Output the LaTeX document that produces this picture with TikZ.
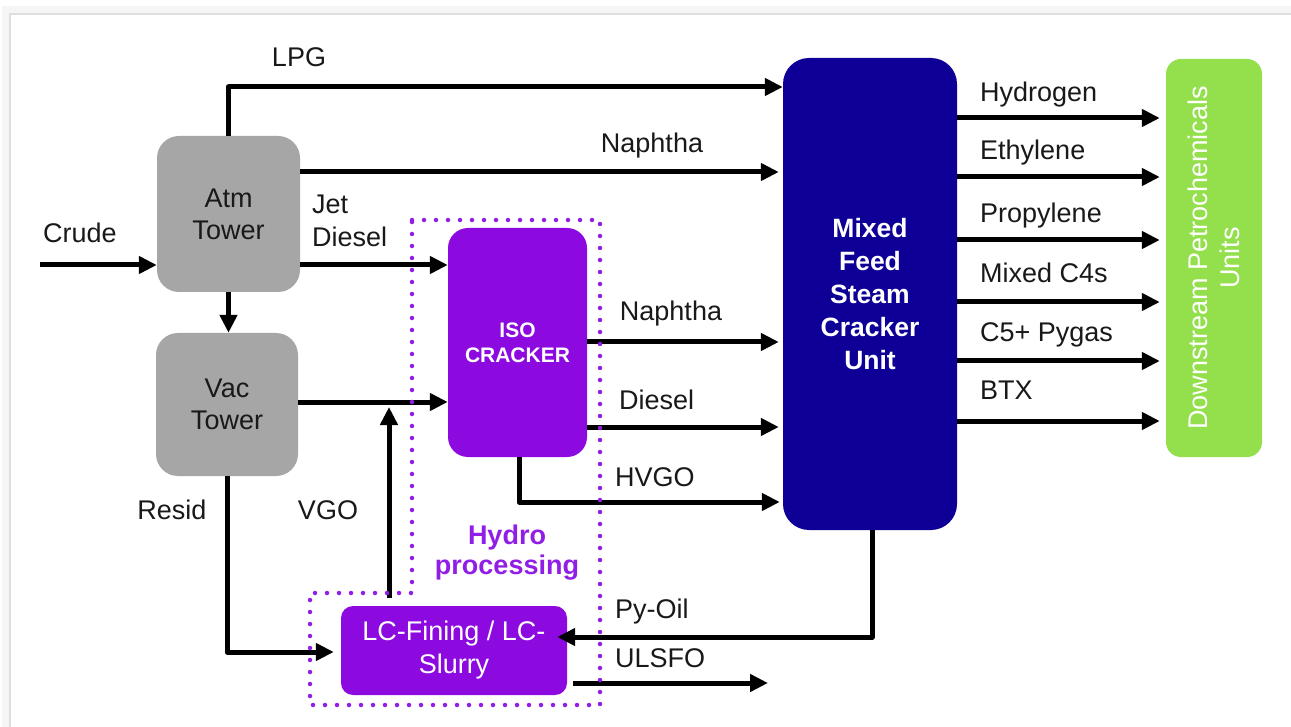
\documentclass[tikz,border=0pt]{standalone}
\usepackage{fontspec}
\setmainfont{Liberation Sans}
\usetikzlibrary{arrows.meta}
\definecolor{boxgray}{RGB}{166,166,166}
\definecolor{isopurple}{RGB}{140,10,224}
\definecolor{mixblue}{RGB}{14,0,150}
\definecolor{dsgreen}{RGB}{148,224,76}
\definecolor{hydropurple}{RGB}{145,30,230}
\definecolor{framegray}{RGB}{222,222,222}
\definecolor{txt}{RGB}{25,25,25}
\begin{document}
\begin{tikzpicture}[x=1pt,y=-1pt,
  box/.style={draw=none, align=center, inner sep=0pt, font=\fontsize{27}{32}\selectfont},
  arr/.style={line width=5pt, line join=round, -{Triangle[length=18pt,width=17pt]}},
  lbl/.style={inner sep=0pt, text=txt, font=\fontsize{27}{33}\selectfont, text height=19.3pt, text depth=0pt},
  hydro/.style={hydropurple, line width=4.5pt, dash pattern=on 0pt off 12pt, line cap=round, line join=round},
]
\useasboundingbox (0,0) rectangle (1291,727);
\fill[white] (0,0) rectangle (1291,727);
% frame with soft shadow
\draw[black!4, line width=8pt] (6,740) -- (6,10) -- (1300,10);
\draw[framegray, line width=2pt] (10,740) -- (10,14) -- (1300,14);

% boxes
\node[box, fill=boxgray, text=txt, rounded corners=22pt, minimum width=143pt, minimum height=156pt] (atm) at (228.5,214) {Atm\\Tower};
\node[box, fill=boxgray, text=txt, rounded corners=22pt, minimum width=142pt, minimum height=143pt] (vac) at (227,404.5) {Vac\\Tower};
\node[box, fill=isopurple, text=white, rounded corners=20pt, minimum width=139pt, minimum height=229pt, font=\bfseries\fontsize{21}{25}\selectfont] (iso) at (517.5,342.5) {ISO\\CRACKER};
\node[box, fill=isopurple, text=white, rounded corners=12pt, minimum width=226pt, minimum height=89pt, font=\fontsize{27}{33}\selectfont] (lc) at (454,650.5) {LC-Fining / LC-\\Slurry};
\node[box, fill=mixblue, text=white, rounded corners=26pt, minimum width=174pt, minimum height=472pt, font=\bfseries\fontsize{26.5}{33}\selectfont] (mix) at (870,294) {Mixed\\Feed\\Steam\\Cracker\\Unit};
\node[box, fill=dsgreen, rounded corners=15pt, minimum width=96pt, minimum height=398pt] (ds) at (1214,258) {};
\node[box, text=white, rotate=90] (dstext) at (ds.center) {Downstream Petrochemicals\\Units};

% coordinates for free ends
\coordinate (crude) at (40,265);
\coordinate (vgotip) at (389,407);
\coordinate (ulsfo) at (768,683);

% connectors
\draw[arr] (crude) -- (crude -| atm.west);
\draw[arr] (atm.north) |- (mix.west |- 0,87);
\draw[arr] (atm.east |- 0,172) -- ([xshift=-4pt]mix.west |- 0,172);
\draw[arr] (atm.east |- 0,265) -- (iso.west |- 0,265);
\draw[arr] (atm.south) -- (atm.south |- vac.north);
\draw[arr] (vac.east |- 0,402) -- (iso.west |- 0,402);
\draw[arr, shorten <=8pt] (lc.north -| vgotip) -- (vgotip);
\draw[arr, shorten >=7pt] (vac.south) |- (lc.west |- 0,652);
\draw[arr] (iso.east |- 0,342) -- ([xshift=-4pt]mix.west |- 0,342);
\draw[arr] (iso.east |- 0,427) -- ([xshift=-4pt]mix.west |- 0,427);
\draw[arr] (iso.south -| 519,0) |- ([xshift=-3pt]mix.west |- 0,502);
\draw[arr, shorten >=-10pt] (mix.south -| 872,0) |- (lc.east |- 0,637);
\draw[arr, shorten <=6pt] (lc.east |- ulsfo) -- (ulsfo);
\foreach \yy in {118,177,240,302,361,421}{
  \draw[arr, shorten >=6pt] (mix.east |- 0,\yy) -- (ds.west |- 0,\yy);
}

% hydroprocessing region
\draw[hydro] (412,220) -- (600,220) -- (600,705) -- (310,705) -- (310,593) -- (412,593) -- cycle;
\node[inner sep=0pt, align=center, text=hydropurple, font=\bfseries\fontsize{27}{30}\selectfont] (hp) at (507,552.5) {Hydro\\processing};

% labels
\node[lbl, anchor=center] (lpg) at (299,57) {LPG};
\node[lbl, anchor=center] (lcrude) at (80,233) {Crude};
\node[inner sep=0pt, text=txt, align=left, anchor=west, font=\fontsize{27}{33}\selectfont] (ljet) at (312,220.5) {Jet\\Diesel};
\node[lbl, anchor=center] (lnap1) at (652,143) {Naphtha};
\node[lbl, anchor=center] (lnap2) at (671,311) {Naphtha};
\node[lbl, anchor=west] (ldies) at (619,400) {Diesel};
\node[lbl, anchor=west] (lhvgo) at (615,477) {HVGO};
\node[lbl, anchor=west] (lpy) at (615,609) {Py-Oil};
\node[lbl, anchor=west] (lul) at (615,658) {ULSFO};
\node[lbl, anchor=center] (lres) at (172,510) {Resid};
\node[lbl, anchor=center] (lvgo) at (328,510) {VGO};
\node[lbl, anchor=west] (o1) at (980,92) {Hydrogen};
\node[lbl, anchor=west] (o2) at (980,150) {Ethylene};
\node[lbl, anchor=west] (o3) at (980,213) {Propylene};
\node[lbl, anchor=west] (o4) at (980,273) {Mixed C4s};
\node[lbl, anchor=west] (o5) at (980,332) {C5+ Pygas};
\node[lbl, anchor=west] (o6) at (980,390) {BTX};
\end{tikzpicture}
\end{document}
